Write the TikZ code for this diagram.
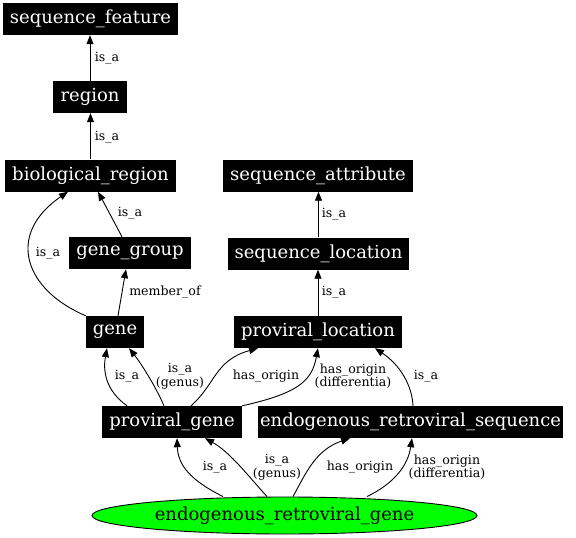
\documentclass[tikz,border=0pt]{standalone}
\usepackage{fontspec}
\setmainfont{DejaVu Serif}
\usetikzlibrary{arrows.meta,shapes.geometric}
\newcommand\ndfont{\fontsize{18}{20}\selectfont}
\newcommand\lbfont{\fontsize{12.6}{12.5}\selectfont}
\begin{document}
\begin{tikzpicture}[x=1pt,y=-1pt,
 box/.style={fill=black,text=white,font=\ndfont,inner sep=0pt,minimum height=32pt},
 edge/.style={draw=black,line width=0.9pt,-{Triangle[length=9pt,width=7pt]}},
 lbl/.style={font=\lbfont,inner sep=0pt,align=center,text=black}]
\fill[white] (0,0) rectangle (576,538);
\useasboundingbox (0,0) rectangle (576,538);
\node[box,minimum width=175pt] (sf) at (90.5,19) {sequence\_feature};
\node[box,minimum width=74pt] (reg) at (90,97) {region};
\node[box,minimum width=171pt] (bio) at (90.5,175.5) {biological\_region};
\node[box,minimum width=122pt] (gg) at (130,253) {gene\_group};
\node[box,minimum width=58pt] (gene) at (115,332) {gene};
\node[box,minimum width=140pt] (pg) at (172,422) {proviral\_gene};
\node[box,minimum width=305pt] (ers) at (410.5,422) {endogenous\_retroviral\_sequence};
\node[box,minimum width=190pt] (sa) at (318,175.5) {sequence\_attribute};
\node[box,minimum width=181pt] (sl) at (318.5,253.5) {sequence\_location};
\node[box,minimum width=168pt] (pl) at (318,332) {proviral\_location};
\node[ellipse,draw=black,fill=green,line width=0.9pt,minimum width=385pt,minimum height=37pt,inner sep=0pt,font=\ndfont] (erg) at (284.5,515.5) {endogenous\_retroviral\_gene};
\draw[edge] (reg.north) -- (reg.north |- sf.south) node[lbl] at (107,58) {is\_a};
\draw[edge] (bio.north) -- (bio.north |- reg.south) node[lbl] at (107,137) {is\_a};
\draw[edge] ([xshift=-8pt]gg.north) -- ([xshift=7.5pt]bio.south) node[lbl] at (130,213) {is\_a};
\draw[edge] (gene.north west) .. controls (25,290) and (5,235) .. ([xshift=-22.5pt]bio.south) node[lbl] at (48,253) {is\_a};
\draw[edge] ([xshift=3pt]gene.north) -- ([xshift=-4pt]gg.south) node[lbl] at (165,292) {member\_of};
\draw[edge] ([xshift=-45pt]pg.north) .. controls (105,390) and (103,370) .. ([xshift=-8pt]gene.south) node[lbl] at (127,376) {is\_a};
\draw[edge] ([xshift=-8pt]pg.north) .. controls (155,385) and (140,362) .. ([xshift=14pt]gene.south) node[lbl] at (180,376) {is\_a\\(genus)};
\draw[edge] ([xshift=19pt]pg.north) .. controls (215,385) and (215,360) .. ([xshift=-60pt]pl.south) node[lbl] at (266,376) {has\_origin};
\draw[edge] (pg.north east) .. controls (300,393) and (312,380) .. (pl.south) node[lbl] at (353,376) {has\_origin\\(differentia)};
\draw[edge] ([xshift=2.5pt]ers.north) .. controls (412,385) and (400,365) .. ([xshift=57pt]pl.south) node[lbl] at (426,376) {is\_a};
\draw[edge] (sl.north) -- (sl.north |- sa.south) node[lbl] at (334,214) {is\_a};
\draw[edge] (pl.north) -- (pl.north |- sl.south) node[lbl] at (334,292) {is\_a};
\draw[edge] ([xshift=-61.5pt]erg.north) .. controls (190,480) and (178,465) .. ([xshift=5pt]pg.south) node[lbl] at (215,467) {is\_a};
\draw[edge] ([xshift=-17.5pt]erg.north) .. controls (250,478) and (230,452) .. ([xshift=33pt]pg.south) node[lbl] at (277,467) {is\_a\\(genus)};
\draw[edge] ([xshift=8.5pt]erg.north) .. controls (305,475) and (315,450) .. ([xshift=-60.5pt]ers.south) node[lbl] at (360,467) {has\_origin};
\draw[edge] ([xshift=82.5pt]erg.north) .. controls (395,483) and (408,465) .. ([xshift=1.5pt]ers.south) node[lbl] at (447,467) {has\_origin\\(differentia)};
\end{tikzpicture}
\end{document}
